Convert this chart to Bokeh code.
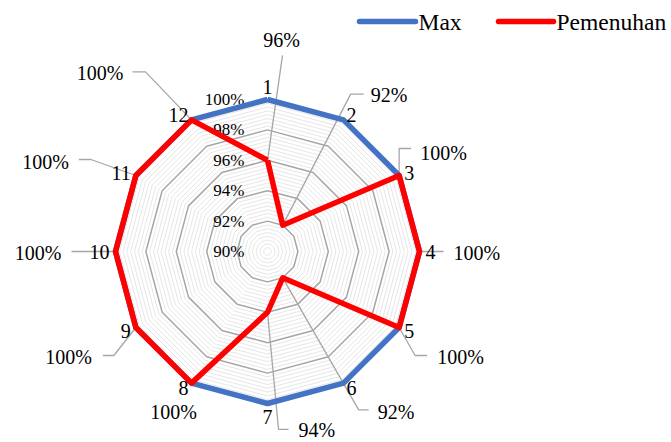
import math
from bokeh.plotting import figure
from bokeh.models import Range1d
from bokeh.core.properties import value
from bokeh.embed import file_html
from bokeh.resources import INLINE

# ---------------- data ----------------
categories = ["1", "2", "3", "4", "5", "6", "7", "8", "9", "10", "11", "12"]
max_values = [100, 100, 100, 100, 100, 100, 100, 100, 100, 100, 100, 100]
pemenuhan = [96, 92, 100, 100, 100, 92, 94, 100, 100, 100, 100, 100]
series_names = ["Max", "Pemenuhan"]
tick_values = [90, 92, 94, 96, 98, 100]
tick_labels = ["90%", "92%", "94%", "96%", "98%", "100%"]
axis_min, axis_max = 90, 100
minor_step = 0.25

# ---------------- layout ----------------
W, H = 671, 442
CX, CY, R = 267, 251, 152
FONT = value("'Liberation Serif', 'Times New Roman', serif")
BLUE = "#4472C4"
RED = "#FF0000"

# data-label placement (offsets from the data point, px), leader elbow offsets and tails
label_off = [(14, -120), (88, -130), (21, -23), (34, 1), (38, 29), (95, 134),
             (31, 118), (-18, 29), (-44, 29), (-54, 1), (-67, -14), (-68, -47)]
label_align = ["center", "left", "left", "left", "left", "left",
               "left", "center", "right", "right", "right", "right"]
leader_elbow = [(15, -105), (68, -131), (0, -27), (0, 0), (16, 28), (76, 132),
                (11, 117), None, (-22, 28), (0, 0), (-45, -16), (-46, -48)]
leader_tail = [0, 13, 12, 24, 12, 10, 10, 0, -11, -44, -12, -13]

n = len(categories)
angles = [2 * math.pi * i / n for i in range(n)]


def rad(v):
    return (v - axis_min) / (axis_max - axis_min) * R


def xy(v, a):
    r = rad(v)
    return CX + r * math.sin(a), CY - r * math.cos(a)


p = figure(width=W, height=H, x_range=Range1d(0, W), y_range=Range1d(H, 0),
           x_axis_type=None, y_axis_type=None, output_backend="svg",
           toolbar_location=None, min_border=0)
p.outline_line_color = None
p.grid.visible = False

# grid rings
minor_xs, minor_ys, major_xs, major_ys = [], [], [], []
k = 1
while axis_min + k * minor_step <= axis_max + 1e-9:
    v = axis_min + k * minor_step
    pts = [xy(v, a) for a in angles] + [xy(v, angles[0])]
    xs = [q[0] for q in pts]
    ys = [q[1] for q in pts]
    if abs(((v - axis_min) / 2) - round((v - axis_min) / 2)) < 1e-9:
        major_xs.append(xs); major_ys.append(ys)
    else:
        minor_xs.append(xs); minor_ys.append(ys)
    k += 1
p.multi_line(minor_xs, minor_ys, line_color="#E6E6E6", line_width=1)
p.multi_line(major_xs, major_ys, line_color="#A6A6A6", line_width=1.5)

# tick labels
p.text([CX - 23] * len(tick_values), [xy(v, 0)[1] for v in tick_values], text=tick_labels,
       text_font=FONT, text_font_size="17px", text_align="right", text_baseline="middle",
       text_color="#000000")

# leader lines
lx, ly = [], []
for i, v in enumerate(pemenuhan):
    if leader_elbow[i] is None:
        continue
    px, py = xy(v, angles[i])
    ex, ey = px + leader_elbow[i][0], py + leader_elbow[i][1]
    lx.append([px, ex, ex + leader_tail[i]])
    ly.append([py, ey, ey])
p.multi_line(lx, ly, line_color="#A6A6A6", line_width=1.3)

# series
for vals, col in [(max_values, BLUE), (pemenuhan, RED)]:
    pts = [xy(v, a) for v, a in zip(vals, angles)]
    pts.append(pts[0])
    p.line([q[0] for q in pts], [q[1] for q in pts], line_color=col, line_width=5.5,
           line_join="round")

# category labels
for i, c in enumerate(categories):
    a = angles[i]
    s, co = math.sin(a), math.cos(a)
    gap = 165 if abs(s) < 0.1 else 158
    x, y = CX + gap * s, CY - gap * co
    align = "center" if abs(s) < 0.1 else ("left" if s > 0 else "right")
    p.text([x], [y], text=[c], text_font=FONT, text_font_size="20px",
           text_align=align, text_baseline="middle", text_color="#000000")

# data labels
for i, v in enumerate(pemenuhan):
    px, py = xy(v, angles[i])
    p.text([px + label_off[i][0]], [py + label_off[i][1]], text=[f"{v}%"], text_font=FONT,
           text_font_size="20px", text_align=label_align[i], text_baseline="middle",
           text_color="#000000")

# legend
leg = [(359, 415, 418, BLUE), (498, 553, 556, RED)]
for (x0, x1, tx, col), name in zip(leg, series_names):
    p.line([x0, x1], [21, 21], line_color=col, line_width=5.5, line_cap="round")
    p.text([tx], [21], text=[name], text_font=FONT, text_font_size="23.5px",
           text_align="left", text_baseline="middle", text_color="#000000")

open("out.html", "w").write(file_html(p, INLINE))
